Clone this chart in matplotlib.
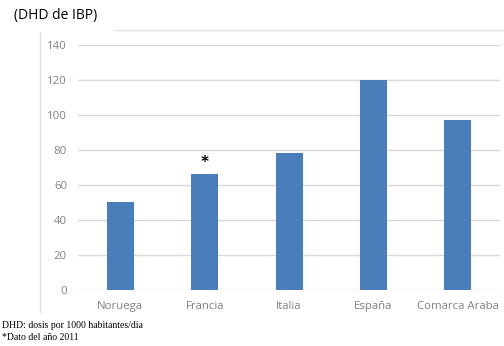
import matplotlib.pyplot as plt
from matplotlib.lines import Line2D

paises = ['Noruega', 'Francia', 'Italia', 'España', 'Comarca Araba']
dhd = [50, 66, 78, 120, 97]
yticks = [0, 20, 40, 60, 80, 100, 120, 140]

fig = plt.figure(figsize=(5.04, 3.46), dpi=100)
fig.patch.set_facecolor('white')
ax = fig.add_axes([0.155, 0.162, 0.837, 0.708])

ax.bar(range(len(paises)), dhd, width=0.32, color='#4a7ebb', zorder=3)
ax.set_xlim(-0.5, len(paises) - 0.5)
ax.set_ylim(0, 140)
ax.set_yticks(yticks)
ax.set_xticks(range(len(paises)))
ax.set_xticklabels(paises)
ax.yaxis.grid(True, color='#d9d9d9', linewidth=1, zorder=0)
for s in ax.spines.values():
    s.set_visible(False)
ax.tick_params(axis='both', length=0, colors='#808080', labelsize=8.2, pad=8)
for t in ax.get_xticklabels() + ax.get_yticklabels():
    t.set_fontfamily('Open Sans')

# asterisco sobre Francia (dato 2011)
ax.annotate('*', xy=(1, dhd[1]), xytext=(0, 3), textcoords='offset points',
            ha='center', va='bottom', fontsize=11, fontweight='bold', color='black')

# marco del grafico
fig.add_artist(Line2D([40/504, 40/504], [1 - 312/346, 1 - 32/346],
                      color='#e0e0e0', linewidth=1, transform=fig.transFigure))
fig.add_artist(Line2D([115/504, 1.0], [1 - 29.5/346, 1 - 29.5/346],
                      color='#e0e0e0', linewidth=1, transform=fig.transFigure))

fig.text(14/504, 1 - 15/346, '(DHD de IBP)', fontsize=10, fontfamily='Open Sans',
         ha='left', va='center', color='black')
fig.text(2/504, 1 - 325/346, 'DHD: dosis por 1000 habitantes/día', fontsize=7,
         fontfamily='Liberation Serif', ha='left', va='center')
fig.text(2/504, 1 - 337/346, '*Dato del año 2011', fontsize=7,
         fontfamily='Liberation Serif', ha='left', va='center')

plt.savefig('out.png', dpi=100)
